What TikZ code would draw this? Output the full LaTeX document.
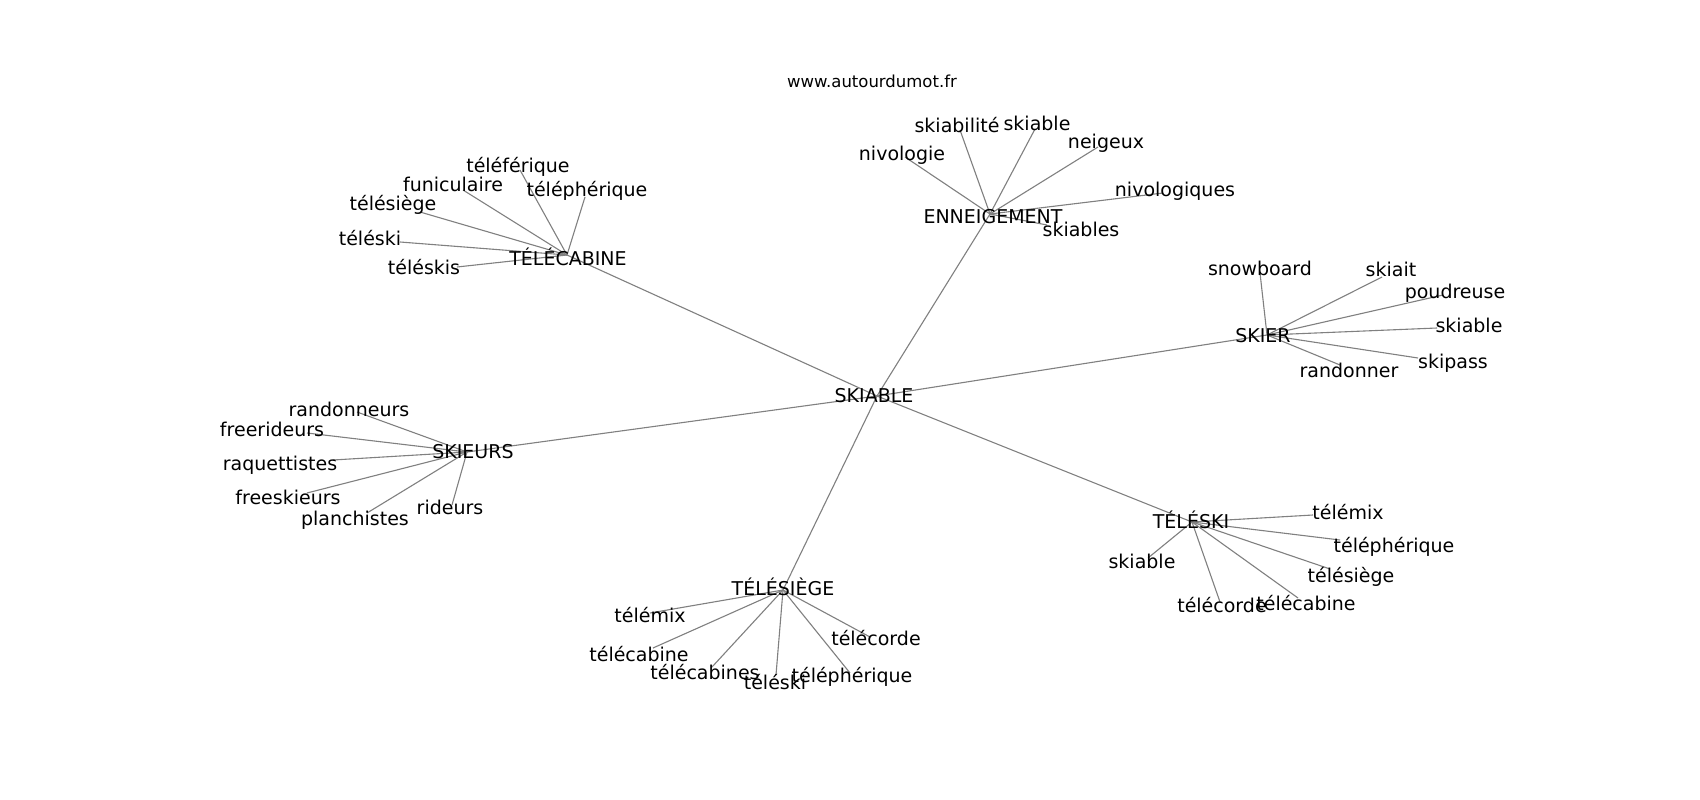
\documentclass[tikz,border=0pt]{standalone}
\usepackage{fontspec}
\setmainfont{DejaVu Sans}
\begin{document}
\begin{tikzpicture}[x=1pt,y=-1pt,
  lbl/.style={font=\fontsize{19}{19}\selectfont, inner sep=0pt, anchor=base, text=black},
  ttl/.style={font=\fontsize{16.5}{16.5}\selectfont, inner sep=0pt, anchor=base, text=black},
  edge/.style={draw=gray, line width=1.1pt}]
\useasboundingbox (0,0) rectangle (1700,800);
\fill[white] (0,0) rectangle (1700,800);

% hub points
\coordinate (hSkiable) at (877,396);
\coordinate (hTelecabine) at (567,255);
\coordinate (hEnneigement) at (990,214);
\coordinate (hSkier) at (1267,335);
\coordinate (hSkieurs) at (467,452);
\coordinate (hTeleski) at (1192,522);
\coordinate (hTelesiege) at (783,590);

% leaf points
\coordinate (pA1) at (520,170);
\coordinate (pA2) at (463,190);
\coordinate (pA3) at (585,197);
\coordinate (pA4) at (420,212);
\coordinate (pA5) at (400,242);
\coordinate (pA6) at (457,267);

\coordinate (pB1) at (960,130);
\coordinate (pB2) at (1035,129);
\coordinate (pB3) at (1098,147);
\coordinate (pB4) at (905,157);
\coordinate (pB5) at (1163,193);
\coordinate (pB6) at (1047,225);

\coordinate (pC1) at (1260,273);
\coordinate (pC2) at (1382,277);
\coordinate (pC3) at (1443,295);
\coordinate (pC4) at (1437,328);
\coordinate (pC5) at (1418,358);
\coordinate (pC6) at (1340,365);

\coordinate (pD1) at (357,412);
\coordinate (pD2) at (307,433);
\coordinate (pD3) at (333,460);
\coordinate (pD4) at (307,493);
\coordinate (pD5) at (367,513);
\coordinate (pD6) at (452,505);

\coordinate (pE1) at (1313,515);
\coordinate (pE2) at (1340,540);
\coordinate (pE3) at (1330,569);
\coordinate (pE4) at (1298,598);
\coordinate (pE5) at (1220,602);
\coordinate (pE6) at (1148,558);

\coordinate (pF1) at (650,613);
\coordinate (pF2) at (653,648);
\coordinate (pF3) at (712,667);
\coordinate (pF4) at (776,675);
\coordinate (pF5) at (850,673);
\coordinate (pF6) at (870,637);

% edges
\foreach \h in {hTelecabine,hEnneigement,hSkier,hSkieurs,hTeleski,hTelesiege}
  \draw[edge] (hSkiable) -- (\h);
\foreach \i in {1,...,6}{
  \draw[edge] (hTelecabine) -- (pA\i);
  \draw[edge] (hEnneigement) -- (pB\i);
  \draw[edge] (hSkier) -- (pC\i);
  \draw[edge] (hSkieurs) -- (pD\i);
  \draw[edge] (hTeleski) -- (pE\i);
  \draw[edge] (hTelesiege) -- (pF\i);
}

% title
\node[ttl] (title) at (872,88) {www.autourdumot.fr};

% hub labels
\node[lbl] (Skiable) at (874,402) {SKIABLE};
\node[lbl] (Telecabine) at (568,265) {TÉLÉCABINE};
\node[lbl] (Enneigement) at (993,223) {ENNEIGEMENT};
\node[lbl] (Skier) at (1263,342) {SKIER};
\node[lbl] (Skieurs) at (473,458) {SKIEURS};
\node[lbl] (Teleski) at (1191,528) {TÉLÉSKI};
\node[lbl] (Telesiege) at (783,595) {TÉLÉSIÈGE};

% TÉLÉCABINE leaves
\node[lbl] (A1) at (518,172) {téléférique};
\node[lbl] (A2) at (453,191) {funiculaire};
\node[lbl] (A3) at (587,196) {téléphérique};
\node[lbl] (A4) at (393,210) {télésiège};
\node[lbl] (A5) at (370,245) {téléski};
\node[lbl] (A6) at (424,274) {téléskis};

% ENNEIGEMENT leaves
\node[lbl] (B1) at (957,132) {skiabilité};
\node[lbl] (B2) at (1037,130) {skiable};
\node[lbl] (B3) at (1106,148) {neigeux};
\node[lbl] (B4) at (902,160) {nivologie};
\node[lbl] (B5) at (1175,196) {nivologiques};
\node[lbl] (B6) at (1081,236) {skiables};

% SKIER leaves
\node[lbl] (C1) at (1260,275) {snowboard};
\node[lbl] (C2) at (1391,276) {skiait};
\node[lbl] (C3) at (1455,298) {poudreuse};
\node[lbl] (C4) at (1469,332) {skiable};
\node[lbl] (C5) at (1453,368) {skipass};
\node[lbl] (C6) at (1349,377) {randonner};

% SKIEURS leaves
\node[lbl] (D1) at (349,416) {randonneurs};
\node[lbl] (D2) at (272,436) {freerideurs};
\node[lbl] (D3) at (280,470) {raquettistes};
\node[lbl] (D4) at (288,504) {freeskieurs};
\node[lbl] (D5) at (355,525) {planchistes};
\node[lbl] (D6) at (450,514) {rideurs};

% TÉLÉSKI leaves
\node[lbl] (E1) at (1348,519) {télémix};
\node[lbl] (E2) at (1394,552) {téléphérique};
\node[lbl] (E3) at (1351,582) {télésiège};
\node[lbl] (E4) at (1306,610) {télécabine};
\node[lbl] (E5) at (1222,612) {télécorde};
\node[lbl] (E6) at (1142,568) {skiable};

% TÉLÉSIÈGE leaves
\node[lbl] (F1) at (650,622) {télémix};
\node[lbl] (F2) at (639,661) {télécabine};
\node[lbl] (F3) at (705,679) {télécabines};
\node[lbl] (F4) at (775,689) {téléski};
\node[lbl] (F5) at (852,682) {téléphérique};
\node[lbl] (F6) at (876,645) {télécorde};
\end{tikzpicture}
\end{document}
